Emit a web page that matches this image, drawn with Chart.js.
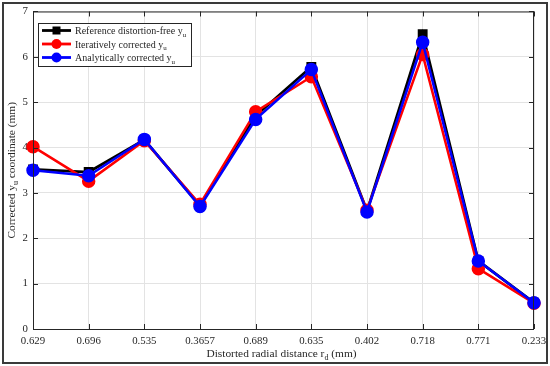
<!DOCTYPE html>
<html>
<head>
<meta charset="utf-8">
<script src="https://cdn.jsdelivr.net/npm/chart.js@4/dist/chart.umd.min.js"></script>
<style>
  html, body { margin: 0; padding: 0; background: #fff; }
  #wrap { width: 550px; height: 366px; position: relative; }
</style>
</head>
<body>
<div id="wrap"><canvas id="chart" width="550" height="366"></canvas></div>
<script>
// data
const radialLabels = ["0.629", "0.696", "0.535", "0.3657", "0.689", "0.635", "0.402", "0.718", "0.771", "0.233"];
const referenceYu  = [3.52, 3.46, 4.17, 2.72, 4.70, 5.78, 2.60, 6.50, 1.50, 0.58];
const iterativeYu  = [4.02, 3.26, 4.15, 2.75, 4.79, 5.56, 2.62, 6.05, 1.33, 0.57];
const analyticYu   = [3.50, 3.38, 4.18, 2.70, 4.62, 5.72, 2.58, 6.32, 1.50, 0.58];
const yTicks = [0, 1, 2, 3, 4, 5, 6, 7];

const FONT = "'Liberation Serif', 'Times New Roman', serif";

// text with a subscript part, drawn left to right
function drawSub(ctx, x, y, main, sub, tail, size) {
  ctx.font = size + "px " + FONT;
  ctx.fillText(main, x, y);
  let w = ctx.measureText(main).width;
  ctx.font = Math.round(size * 0.72) + "px " + FONT;
  ctx.fillText(sub, x + w, y + size * 0.28);
  w += ctx.measureText(sub).width;
  if (tail) {
    ctx.font = size + "px " + FONT;
    ctx.fillText(tail, x + w, y);
  }
}
function subWidth(ctx, main, sub, tail, size) {
  ctx.font = size + "px " + FONT;
  let w = ctx.measureText(main).width + (tail ? ctx.measureText(tail).width : 0);
  ctx.font = Math.round(size * 0.72) + "px " + FONT;
  return w + ctx.measureText(sub).width;
}

// box, inward ticks, axis titles, legend
const matlabLook = {
  id: "matlabLook",
  afterDraw(chart) {
    const { ctx, chartArea: a, scales } = chart;
    ctx.save();
    // outer frame
    ctx.strokeStyle = "#3a3a3a";
    ctx.lineWidth = 2;
    ctx.strokeRect(3, 3, 544, 360);

    // axes box
    ctx.strokeStyle = "#262626";
    ctx.lineWidth = 1;
    ctx.strokeRect(a.left + 0.5, a.top + 0.5, a.right - a.left - 1, a.bottom - a.top);

    // inward ticks
    ctx.beginPath();
    radialLabels.forEach((_, i) => {
      const x = Math.round(scales.x.getPixelForValue(i)) + 0.5;
      ctx.moveTo(x, a.bottom); ctx.lineTo(x, a.bottom - 5);
      ctx.moveTo(x, a.top); ctx.lineTo(x, a.top + 5);
    });
    yTicks.forEach(v => {
      const y = Math.round(scales.y.getPixelForValue(v)) + 0.5;
      ctx.moveTo(a.left, y); ctx.lineTo(a.left + 5, y);
      ctx.moveTo(a.right, y); ctx.lineTo(a.right - 5, y);
    });
    ctx.stroke();

    // axis titles
    ctx.fillStyle = "#262626";
    ctx.textBaseline = "alphabetic";
    const ts = 11.4;
    const xw = subWidth(ctx, "Distorted radial distance r", "d", " (mm)", ts);
    drawSub(ctx, (a.left + a.right) / 2 - xw / 2 - 2, 357, "Distorted radial distance r", "d", " (mm)", ts);

    ctx.save();
    ctx.translate(15, (a.top + a.bottom) / 2);
    ctx.rotate(-Math.PI / 2);
    const yw = subWidth(ctx, "Corrected y", "u", " coordinate (mm)", ts);
    drawSub(ctx, -yw / 2, 0, "Corrected y", "u", " coordinate (mm)", ts);
    ctx.restore();

    // legend inside the axes
    const lx = 38, ly = 23, lw = 153, lh = 43;
    ctx.fillStyle = "#fff";
    ctx.fillRect(lx, ly, lw, lh);
    ctx.strokeStyle = "#262626";
    ctx.lineWidth = 1;
    ctx.strokeRect(lx + 0.5, ly + 0.5, lw, lh);
    const texts = [["Reference distortion-free y", "u"], ["Iteratively corrected y", "u"], ["Analytically corrected y", "u"]];
    chart.data.datasets.forEach((ds, i) => {
      const y = ly + 7.5 + i * 13.5;
      ctx.strokeStyle = ds.borderColor;
      ctx.lineWidth = 2.8;
      ctx.beginPath(); ctx.moveTo(lx + 4, y); ctx.lineTo(lx + 33, y); ctx.stroke();
      ctx.fillStyle = ds.borderColor;
      if (ds.pointStyle === "rect") {
        ctx.fillRect(lx + 18.5 - 4, y - 4, 8, 8);
      } else {
        ctx.beginPath(); ctx.arc(lx + 18.5, y, 5, 0, Math.PI * 2); ctx.fill();
      }
      ctx.fillStyle = "#262626";
      drawSub(ctx, lx + 37, y + 3.5, texts[i][0], texts[i][1], "", 10);
    });
    ctx.restore();
  }
};

new Chart(document.getElementById("chart"), {
  type: "line",
  data: {
    labels: radialLabels,
    datasets: [
      { label: "Reference distortion-free yu", data: referenceYu, borderColor: "#000000", backgroundColor: "#000000",
        borderWidth: 2.8, pointStyle: "rect", pointRadius: 5, order: 2 },
      { label: "Iteratively corrected yu", data: iterativeYu, borderColor: "#ff0000", backgroundColor: "#ff0000",
        borderWidth: 2.5, pointStyle: "circle", pointRadius: 5.5, order: 1 },
      { label: "Analytically corrected yu", data: analyticYu, borderColor: "#0000ff", backgroundColor: "#0000ff",
        borderWidth: 2.5, pointStyle: "circle", pointRadius: 5.5, order: 0 }
    ]
  },
  options: {
    responsive: false,
    animation: false,
    layout: { padding: { left: 0, top: 9, right: 16, bottom: 0 } },
    plugins: { legend: { display: false }, tooltip: { enabled: false } },
    elements: { line: { tension: 0 }, point: { borderWidth: 0, hoverRadius: 5 } },
    scales: {
      x: {
        type: "category",
        offset: false,
        grid: { color: "#e3e3e3", lineWidth: 1, drawTicks: false },
        border: { display: false },
        ticks: { color: "#262626", font: { family: FONT, size: 10.8 }, padding: 6, maxRotation: 0, autoSkip: false },
        afterFit: s => { s.height = 37; s.paddingRight = 0; s.paddingLeft = 0; }
      },
      y: {
        min: 0, max: 7,
        grid: { color: "#e3e3e3", lineWidth: 1, drawTicks: false },
        border: { display: false },
        ticks: { stepSize: 1, color: "#262626", font: { family: FONT, size: 10.8 }, padding: 5 },
        afterFit: s => { s.width = 33; }
      }
    }
  },
  plugins: [matlabLook]
});
</script>
</body>
</html>
